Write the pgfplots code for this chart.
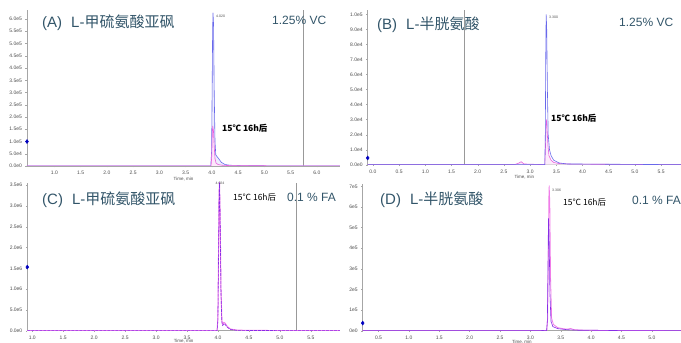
\documentclass[border=0pt]{standalone}
\usepackage{pgfplots}
\pgfplotsset{compat=1.18}
\usepackage{fontspec}
\setmainfont{Liberation Sans}
\newfontfamily\cjk{Noto Sans CJK SC}
\definecolor{titlecol}{RGB}{50,85,105}
\definecolor{tblue}{RGB}{105,105,235}
\definecolor{tpink}{RGB}{232,95,222}
\definecolor{tpurp}{RGB}{135,45,230}
\definecolor{tpink2}{RGB}{240,125,232}
\pgfplotsset{
  chrom/.style={
    scale only axis, anchor=south west,
    axis lines*=left, axis line style={gray!70,line width=0.5pt},
    tick align=outside, major tick length=1.5pt,
    tick style={gray!70,line width=0.3pt},
    ticklabel style={font=\fontsize{5}{5.5}\selectfont, text=black!70},
    xtick pos=bottom, ytick pos=left,
    scaled ticks=false, clip mode=individual,
    ymin=0,
    xlabel style={font=\fontsize{4.5}{5}\selectfont, text=black!70, yshift=4.5pt},
    xlabel={Time, min},
  },
  tr/.style={line width=0.6pt, line join=round},
}
\begin{document}
\begin{tikzpicture}[x=1pt,y=1pt]
\path[use as bounding box] (0,0) rectangle (681,343);
% ---------- Panel A ----------
\begin{axis}[chrom, at={(27pt,177pt)}, width=313pt, height=156pt,
  xmin=0.48, xmax=6.44, ymax=6.37e5,
  xtick={1,1.5,2,2.5,3,3.5,4,4.5,5,5.5,6},
  xticklabels={1.0,1.5,2.0,2.5,3.0,3.5,4.0,4.5,5.0,5.5,6.0},
  ytick={0,0.5e5,1e5,1.5e5,2e5,2.5e5,3e5,3.5e5,4e5,4.5e5,5e5,5.5e5,6e5},
  yticklabels={0.0e0,5.0e4,1.0e5,1.5e5,2.0e5,2.5e5,3.0e5,3.5e5,4.0e5,4.5e5,5.0e5,5.5e5,6.0e5}]
\addplot[gray!80, line width=0.5pt] coordinates {(5.74,0) (5.74,6.37e5)};
\addplot[tr, tblue, fill=tblue!12] coordinates {(0.48,0) (3.98,0) (3.995,0.6e5) (4.005,3.0e5) (4.015,5.6e5) (4.022,6.25e5) (4.032,5.8e5) (4.045,3.0e5) (4.06,1.0e5) (4.075,0.45e5) (4.1,0.38e5) (4.13,0.3e5) (4.18,0.15e5) (4.25,0.06e5) (4.35,0.03e5) (4.6,0.015e5) (5.0,0.008e5) (6.44,0)};
\addplot[tr, tpink, fill=tpink!15] coordinates {(0.48,0) (3.985,0) (3.998,0.4e5) (4.008,1.3e5) (4.016,1.63e5) (4.03,1.45e5) (4.045,0.8e5) (4.06,0.3e5) (4.08,0.12e5) (4.12,0.06e5) (4.2,0.03e5) (4.35,0.015e5) (4.7,0.01e5) (6.44,0)};
\addplot[only marks, mark=diamond*, mark size=2pt, blue!75!black] coordinates {(0.48,1.0e5)};
\end{axis}
% ---------- Panel B ----------
\begin{axis}[chrom, at={(367.7pt,178.3pt)}, width=313.3pt, height=154.7pt,
  xmin=-0.1, xmax=5.88, ymax=1.03e5,
  xtick={0,0.5,1,1.5,2,2.5,3,3.5,4,4.5,5,5.5},
  xticklabels={0.0,0.5,1.0,1.5,2.0,2.5,3.0,3.5,4.0,4.5,5.0,5.5},
  ytick={0,1e4,2e4,3e4,4e4,5e4,6e4,7e4,8e4,9e4,1e5},
  yticklabels={0.0e0,1.0e4,2.0e4,3.0e4,4.0e4,5.0e4,6.0e4,7.0e4,8.0e4,9.0e4,1.0e5}]
\addplot[gray!80, line width=0.5pt] coordinates {(1.75,0) (1.75,1.03e5)};
\addplot[tr, tpink, fill=tpink!12] coordinates {(-0.1,0) (2.7,0) (2.78,0.01e5) (2.83,0.02e5) (2.88,0.005e5) (3.28,0) (3.292,0.1e5) (3.302,0.26e5) (3.31,0.30e5) (3.322,0.25e5) (3.34,0.13e5) (3.36,0.06e5) (3.4,0.03e5) (3.45,0.015e5) (3.55,0.008e5) (3.8,0.004e5) (5.88,0)};
\addplot[tr, tblue] coordinates {(-0.1,0) (3.28,0) (3.29,0.2e5) (3.298,0.7e5) (3.306,1.0e5) (3.316,0.92e5) (3.33,0.5e5) (3.345,0.2e5) (3.37,0.1e5) (3.4,0.06e5) (3.45,0.03e5) (3.55,0.012e5) (3.7,0.005e5) (5.88,0)};
\addplot[only marks, mark=diamond*, mark size=2pt, blue!75!black] coordinates {(-0.1,0.045e5)};
\end{axis}
% ---------- Panel C ----------
\begin{axis}[chrom, at={(27.3pt,12.3pt)}, width=312.7pt, height=148pt,
  xmin=0.92, xmax=5.97, ymax=3.56e6,
  xlabel style={yshift=2pt},
  xtick={1,1.5,2,2.5,3,3.5,4,4.5,5,5.5},
  xticklabels={1.0,1.5,2.0,2.5,3.0,3.5,4.0,4.5,5.0,5.5},
  ytick={0,0.5e6,1e6,1.5e6,2e6,2.5e6,3e6,3.5e6},
  yticklabels={0.0e0,5.0e5,1.0e6,1.5e6,2.0e6,2.5e6,3.0e6,3.5e6}]
\addplot[gray!80, line width=0.5pt] coordinates {(5.26,0) (5.26,3.56e6)};
\addplot[tr, tpink2, line width=1pt] coordinates {(0.92,0) (3.985,0) (3.998,0.3e6) (4.008,1.8e6) (4.017,3.3e6) (4.024,3.56e6) (4.034,2.8e6) (4.048,1.0e6) (4.062,0.25e6) (4.075,0.15e6) (4.095,0.2e6) (4.115,0.18e6) (4.15,0.1e6) (4.2,0.04e6) (4.3,0.015e6) (4.5,0.006e6) (5.97,0)};
\addplot[tr, tpurp, dashed, dash pattern=on 3pt off 1pt] coordinates {(0.92,0) (3.985,0) (3.998,0.25e6) (4.008,1.7e6) (4.017,3.2e6) (4.024,3.56e6) (4.034,2.7e6) (4.048,0.9e6) (4.062,0.2e6) (4.075,0.12e6) (4.095,0.17e6) (4.115,0.15e6) (4.15,0.08e6) (4.2,0.03e6) (4.3,0.01e6) (4.5,0.005e6) (5.97,0)};
\addplot[only marks, mark=diamond*, mark size=2pt, blue!75!black] coordinates {(0.92,1.53e6)};
\end{axis}
% ---------- Panel D ----------
\begin{axis}[chrom, at={(362.7pt,12.3pt)}, width=318.3pt, height=146.4pt,
  xmin=0.24, xmax=5.48, ymax=7.1e5,
  xlabel style={yshift=1.5pt},
  xtick={0.5,1,1.5,2,2.5,3,3.5,4,4.5,5},
  xticklabels={0.5,1.0,1.5,2.0,2.5,3.0,3.5,4.0,4.5,5.0},
  ytick={0,1e5,2e5,3e5,4e5,5e5,6e5,7e5},
  yticklabels={0e0,1e5,2e5,3e5,4e5,5e5,6e5,7e5}]
\addplot[tr, tpink2, line width=0.8pt] coordinates {(0.24,0) (3.27,0) (3.285,0.6e5) (3.296,3.5e5) (3.304,6.4e5) (3.31,7.03e5) (3.32,6.2e5) (3.333,2.5e5) (3.35,0.6e5) (3.38,0.3e5) (3.45,0.15e5) (3.55,0.09e5) (3.62,0.08e5) (3.66,0.11e5) (3.72,0.05e5) (3.9,0.02e5) (4.3,0.01e5) (5.48,0)};
\addplot[tr, tpurp] coordinates {(0.24,0) (3.15,0) (3.2,0.01e5) (3.268,0) (3.28,0.5e5) (3.29,3.0e5) (3.298,5.44e5) (3.308,4.8e5) (3.322,1.8e5) (3.34,0.45e5) (3.37,0.2e5) (3.45,0.1e5) (3.6,0.05e5) (3.8,0.02e5) (4.0,0.025e5) (4.2,0.015e5) (4.5,0.005e5) (5.48,0)};
\addplot[only marks, mark=diamond*, mark size=2pt, blue!75!black] coordinates {(0.24,0.37e5)};
\end{axis}
% ---------- Annotations ----------
\begin{scope}[every node/.style={inner sep=0pt, anchor=west}]
\node[text=titlecol, font=\fontsize{15}{15}\selectfont] at (42,320) {(A)\hspace{0.6em}L-{\cjk 甲硫氨酸亚砜}};
\node[text=titlecol, font=\fontsize{12}{12}\selectfont] at (272,323) {1.25\% VC};
\node[font=\fontsize{8.5}{9}\selectfont\bfseries] at (222,215) {\cjk 15℃ 16h后};
\node[font=\fontsize{3.5}{4}\selectfont, text=black!70] at (216,327) {4.020};
\node[text=titlecol, font=\fontsize{15}{15}\selectfont] at (377,318) {(B)\hspace{0.6em}L-{\cjk 半胱氨酸}};
\node[text=titlecol, font=\fontsize{12}{12}\selectfont] at (619,321) {1.25\% VC};
\node[font=\fontsize{8.5}{9}\selectfont\bfseries] at (551,225) {\cjk 15℃ 16h后};
\node[font=\fontsize{3.5}{4}\selectfont, text=black!70] at (549,326) {3.300};
\node[text=titlecol, font=\fontsize{15}{15}\selectfont] at (42,143) {(C)\hspace{0.6em}L-{\cjk 甲硫氨酸亚砜}};
\node[font=\fontsize{8.5}{9}\selectfont] at (233,146) {\cjk 15℃ 16h后};
\node[text=titlecol, font=\fontsize{12}{12}\selectfont] at (287,146) {0.1 \% FA};
\node[font=\fontsize{3.5}{4}\selectfont, text=black!70, anchor=center] at (220,160) {4.024};
\node[text=titlecol, font=\fontsize{15}{15}\selectfont] at (380,143) {(D)\hspace{0.6em}L-{\cjk 半胱氨酸}};
\node[font=\fontsize{8.5}{9}\selectfont] at (563,141) {\cjk 15℃ 16h后};
\node[text=titlecol, font=\fontsize{12}{12}\selectfont] at (632,143) {0.1 \% FA};
\node[font=\fontsize{3.5}{4}\selectfont, text=black!70] at (552,153) {3.306};
\end{scope}
\end{tikzpicture}
\end{document}
